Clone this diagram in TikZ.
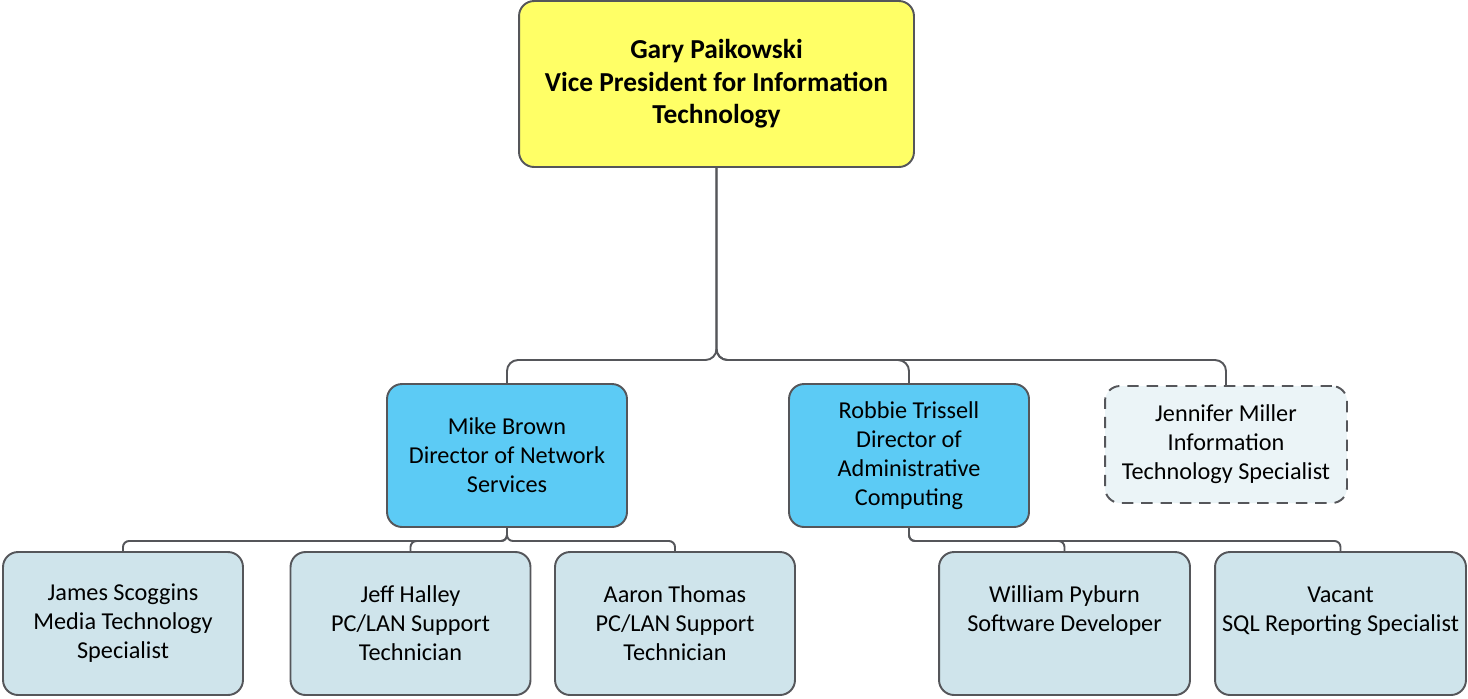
\documentclass[tikz,border=0pt]{standalone}
\usepackage{fontspec}
\setmainfont{Carlito}
\usetikzlibrary{positioning}

\definecolor{vpyellow}{HTML}{FFFF66}
\definecolor{dirblue}{HTML}{5CCBF5}
\definecolor{staffblue}{HTML}{CFE4EB}
\definecolor{openblue}{HTML}{EBF4F7}
\definecolor{linegray}{HTML}{55565A}

\begin{document}
\begin{tikzpicture}[x=0.02cm, y=-0.02cm,
    box/.style={draw=linegray, line width=1.1pt, rounded corners=0.3cm, align=center, inner sep=0pt,
        font=\fontsize{13.8}{16.5}\selectfont},
    vp/.style={box, fill=vpyellow, minimum width=7.9cm, minimum height=3.32cm,
        font=\fontsize{15.6}{18.4}\selectfont\bfseries},
    director/.style={box, fill=dirblue, minimum width=4.8cm, minimum height=2.86cm},
    staff/.style={box, fill=staffblue, minimum width=4.8cm, minimum height=2.86cm},
    opening/.style={box, fill=openblue, dash pattern=on 6.5pt off 4.5pt, minimum width=4.84cm, minimum height=2.34cm},
    conn/.style={draw=linegray, line width=1.1pt, rounded corners=0.22cm},
    subconn/.style={conn, rounded corners=0.12cm}]
    \useasboundingbox (0,0) rectangle (1468,698);

    % Nodes
    \node[vp] (gary) at (716.5,84) {Gary Paikowski\\Vice President for Information\\Technology};
    \node[director] (mike) at (507,455.5) {Mike Brown\\Director of Network\\Services};
    \node[director] (robbie) at (909,455.5) {Robbie Trissell\\Director of\\Administrative\\Computing};
    \node[opening] (jennifer) at (1226,444.5) {Jennifer Miller\\Information\\Technology Specialist};

    \node[staff] (james) at (123,623.5) {James Scoggins\\Media Technology\\Specialist};
    \node[staff] (jeff) at (410.5,623.5) {Jeff Halley\\PC/LAN Support\\Technician};
    \node[staff] (aaron) at (675,623.5) {Aaron Thomas\\PC/LAN Support\\Technician};
    \node[staff, minimum width=5.02cm] (william) at (1064.5,623.5) {William Pyburn\\Software Developer\\\mbox{}};
    \node[staff, minimum width=5.02cm] (vacant) at (1340.5,623.5) {Vacant\\SQL Reporting Specialist\\\mbox{}};

    % Branch points
    \coordinate (garysplit) at (716.5,360);
    \coordinate (mikesplit) at (507,541);
    \coordinate (robbiesplit) at (909,541);

    % Connections
    \draw[conn] (gary.south) -- (garysplit) -| (mike.north);
    \draw[conn] (gary.south) -- (garysplit) -| (robbie.north);
    \draw[conn] (gary.south) -- (garysplit) -| (jennifer.north);

    \draw[subconn] (mike.south) -- (mikesplit) -| (james.north);
    \draw[subconn] (mike.south) -- (mikesplit) -| (jeff.north);
    \draw[subconn] (mike.south) -- (mikesplit) -| (aaron.north);

    \draw[subconn] (robbie.south) -- (robbiesplit) -| (william.north);
    \draw[subconn] (robbie.south) -- (robbiesplit) -| (vacant.north);
\end{tikzpicture}
\end{document}
